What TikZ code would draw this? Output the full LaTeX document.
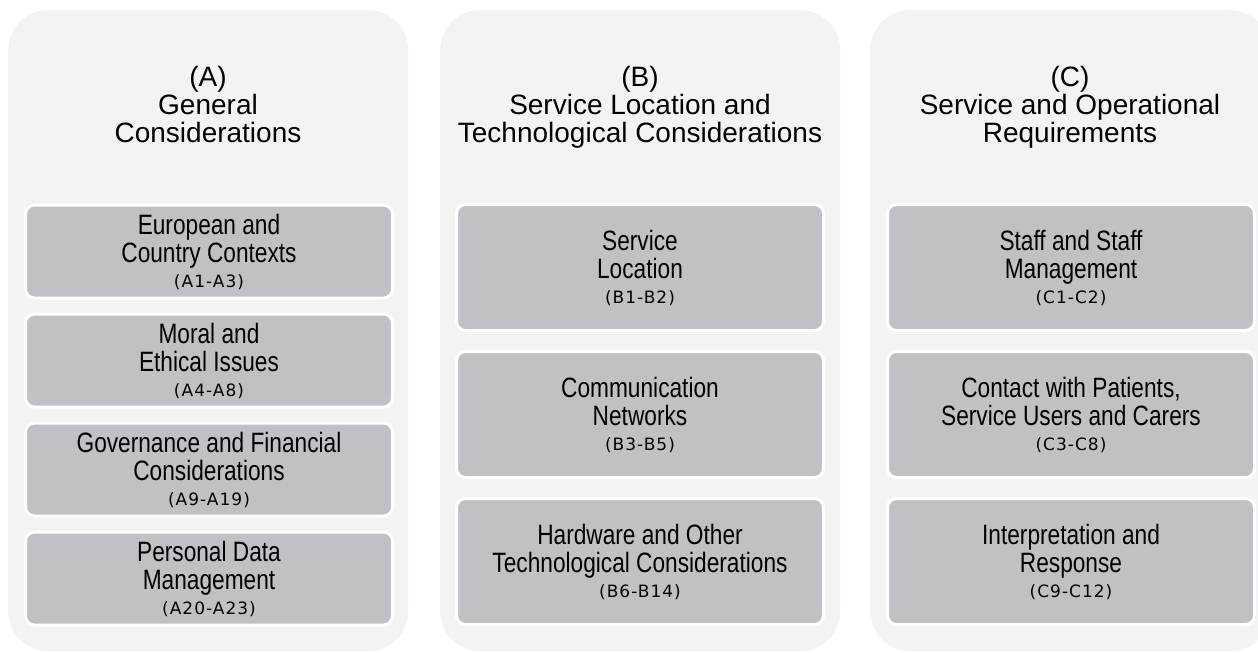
\documentclass[tikz,border=0pt]{standalone}
\usepackage{fontspec}
\setmainfont{Liberation Sans}
\newfontfamily\narrowfont{Liberation Sans}[FakeStretch=0.81]
\newfontfamily\codefont{DejaVu Sans}[LetterSpace=6]
\usetikzlibrary{positioning}
\definecolor{panelgray}{HTML}{F2F3F3}
\definecolor{boxgray}{HTML}{C0C1C4}
\newcommand{\code}[1]{{\codefont\fontsize{17}{28}\selectfont #1}}

\begin{document}
\begin{tikzpicture}[x=1pt, y=-1pt,
  panel/.style={rectangle, fill=panelgray, rounded corners=40pt, minimum width=400pt, minimum height=641pt, anchor=north west, inner sep=0pt},
  heading/.style={align=center, anchor=north, inner sep=0pt, font=\fontsize{28}{28}\selectfont},
  topic/.style={rectangle, fill=boxgray, draw=white, line width=3pt, rounded corners=9pt, minimum width=367pt, align=center, inner sep=0pt, font=\narrowfont\fontsize{28}{28}\selectfont},
  topicA/.style={topic, minimum height=93pt},
  topicB/.style={topic, minimum height=126pt}]

\useasboundingbox (0,0) rectangle (1258,653);
\clip (0,0) rectangle (1258,653);

\node[panel] (general) at (8,10) {};
\node[panel] (location) at (440,10) {};
\node[panel] (operational) at (870,10) {};

\node[heading] (titleA) at (208,66) {(A)\\General\\Considerations};
\node[heading] (titleB) at (640,66) {(B)\\Service Location and\\Technological Considerations};
\node[heading] (titleC) at (1070,66) {(C)\\Service and Operational\\Requirements};

% column A
\node[topicA] (contexts) at (209,251.5) {European and\\Country Contexts\\[-3pt]\code{(A1-A3)}};
\node[topicA, below=13pt of contexts] (ethics) {Moral and\\Ethical Issues\\[-3pt]\code{(A4-A8)}};
\node[topicA, below=13pt of ethics] (governance) {Governance and Financial\\Considerations\\[-3pt]\code{(A9-A19)}};
\node[topicA, below=13pt of governance] (personal) {Personal Data\\Management\\[-3pt]\code{(A20-A23)}};

% column B
\node[topicB] (siteloc) at (640,267.5) {Service\\Location\\[-3pt]\code{(B1-B2)}};
\node[topicB, below=18pt of siteloc] (networks) {Communication\\Networks\\[-3pt]\code{(B3-B5)}};
\node[topicB, below=18pt of networks] (hardware) {Hardware and Other\\Technological Considerations\\[-3pt]\code{(B6-B14)}};

% column C
\node[topicB] (staff) at (1071,267.5) {Staff and Staff\\Management\\[-3pt]\code{(C1-C2)}};
\node[topicB, below=18pt of staff] (contact) {Contact with Patients,\\Service Users and Carers\\[-3pt]\code{(C3-C8)}};
\node[topicB, below=18pt of contact] (interpret) {Interpretation and\\Response\\[-3pt]\code{(C9-C12)}};
\end{tikzpicture}
\end{document}
